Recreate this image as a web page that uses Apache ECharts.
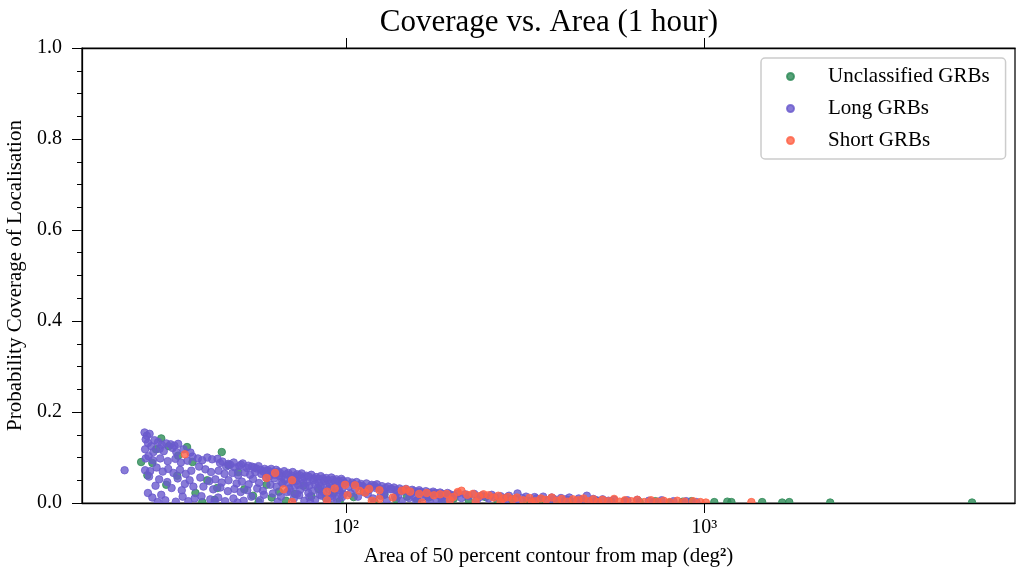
<!DOCTYPE html>
<html>
<head>
<meta charset="utf-8">
<title>Coverage vs. Area (1 hour)</title>
<script src="https://cdn.jsdelivr.net/npm/echarts@6/dist/echarts.min.js"></script>
<style>
  html, body { margin: 0; padding: 0; background: #fff; }
  #chart { width: 1016px; height: 574px; }
</style>
</head>
<body>
<div id="chart"></div>
<script>
// [area of 50% contour (deg^2), probability coverage]
const unclassifiedGRBs = [
  [26.8,0.090],[27.9,0.061],[28.8,0.088],[29.5,0.118],[30.5,0.142],[32.0,0.125],[34.0,0.104],[36.0,0.123],
  [37.3,0.090],[31.5,0.040],[33.8,0.060],[38.0,0.022],[39.7,0.002],[41.0,0.050],[43.0,0.007],[43.7,0.033],
  [45.0,0.112],[47.0,0.083],[50.0,0.068],[52.0,0.030],[55.0,0.016],[57.0,0.002],[60.0,0.040],[62.0,0.012],
  [65.0,0.025],[68.0,0.005],[72.0,0.020],[76.0,0.038],[80.0,0.015],[84.0,0.030],[88.0,0.010],[92.0,0.022],
  [96.0,0.004],[105,0.013],[112,0.025],[120,0.002],[128,0.018],[138,0.008],[148,0.014],[158,0.006],
  [170,0.012],[185,0.004],[200,0.010],[220,0.006],[245,0.013],[265,0.003],[290,0.009],[320,0.005],
  [350,0.008],[385,0.003],[420,0.006],[460,0.002],[500,0.005],[550,0.003],[600,0.004],[660,0.002],
  [730,0.004],[800,0.001],[870,0.003],[920,0.004],[1066,0.002],[1159,0.003],[1190,0.002],[1450,0.002],
  [1649,0.001],[1726,0.002],[2245,0.001],[5586,0.001]
];

const longGRBs = [
  [24.1,0.072],
  [27.4,0.155],[27.8,0.148],[28.3,0.152],[27.6,0.140],[28.0,0.132],[27.5,0.118],[28.6,0.125],[29.2,0.138],
  [29.9,0.134],[30.6,0.128],[31.5,0.131],[32.4,0.129],[33.2,0.126],[34.0,0.130],[32.8,0.121],[30.2,0.119],
  [29.0,0.112],[31.0,0.114],[33.6,0.112],[35.2,0.118],[36.8,0.111],
  [27.6,0.098],[28.1,0.103],[28.9,0.094],[30.3,0.098],[31.8,0.092],[33.4,0.097],[34.6,0.089],[36.1,0.093],[37.3,0.102],
  [27.5,0.072],[28.4,0.070],[29.6,0.078],[30.8,0.069],[31.9,0.075],[33.0,0.066],[34.4,0.073],[35.7,0.064],[37.0,0.071],
  [28.2,0.058],[30.1,0.052],[31.7,0.046],[33.9,0.054],[35.5,0.042],[36.6,0.050],[29.4,0.038],[32.6,0.033],[34.8,0.028],[37.5,0.036],
  [28.0,0.022],[28.8,0.012],[30.5,0.018],[31.3,0.006],[33.5,0.003],[35.0,0.014],[36.3,0.004],[37.8,0.010],[29.8,0.002],
  [38.6,0.098],[39.7,0.094],[41.0,0.100],[42.3,0.096],[43.8,0.097],[45.2,0.091],[46.3,0.080],[47.5,0.084],
  [49.0,0.078],[50.4,0.081],[51.5,0.087],[52.9,0.077],[54.6,0.080],[56.2,0.076],[57.8,0.073],[59.3,0.075],
  [38.9,0.080],[40.5,0.074],[42.0,0.068],[44.1,0.071],[45.8,0.064],[48.2,0.066],[50.0,0.061],[52.2,0.067],
  [54.0,0.062],[55.8,0.068],[58.0,0.064],
  [39.2,0.056],[41.5,0.048],[43.2,0.052],[45.0,0.045],[47.0,0.050],[49.5,0.043],[51.2,0.047],[53.5,0.041],
  [55.0,0.053],[57.2,0.044],[59.8,0.056],
  [40.0,0.036],[42.6,0.030],[44.6,0.034],[46.8,0.026],[48.8,0.031],[50.8,0.024],[53.0,0.028],[56.5,0.032],[58.6,0.027],
  [39.5,0.015],[41.8,0.008],[44.0,0.012],[46.0,0.004],[48.5,0.010],[51.8,0.005],[54.4,0.014],[57.5,0.006],
  [59.0,0.018],[43.0,0.002],[49.8,0.001],
  [44.5,0.088],[46.9,0.086],[48.6,0.089],[50.9,0.084],[53.4,0.082],[55.4,0.078],[57.0,0.081],[58.8,0.069],
  [60.5,0.072],[62.0,0.068],[63.8,0.073],[65.5,0.066],[67.2,0.070],[69.0,0.066],[71.0,0.068],[73.0,0.063],
  [75.2,0.065],[77.5,0.060],[80.0,0.062],[82.5,0.057],[85.0,0.059],[88.0,0.055],[91.0,0.056],[94.0,0.052],[97.0,0.053],
  [60.0,0.070],[61.8,0.075],[63.2,0.062],[64.6,0.069],[66.2,0.058],[68.2,0.063],[70.5,0.060],[72.8,0.057],
  [74.2,0.061],[76.4,0.056],[78.6,0.058],[81.5,0.054],[83.8,0.052],[86.2,0.054],[89.0,0.050],[92.0,0.051],
  [95.2,0.048],[98.0,0.049],
  [61.0,0.058],[63.0,0.054],[65.0,0.060],[67.5,0.051],[70.0,0.056],[72.5,0.048],[75.0,0.053],[78.0,0.046],
  [81.0,0.050],[84.0,0.044],[87.0,0.048],[90.0,0.042],[93.5,0.046],[96.5,0.040],[99.0,0.044],
  [66.0,0.046],[69.0,0.042],[71.0,0.047],[73.5,0.040],[76.0,0.044],[79.0,0.038],[82.0,0.041],[85.0,0.036],
  [88.0,0.039],[91.0,0.034],[94.0,0.037],[97.5,0.031],
  [61.5,0.040],[64.0,0.036],[66.5,0.043],[69.5,0.032],[72.0,0.038],[74.5,0.029],[77.0,0.035],[80.5,0.026],
  [83.5,0.033],[86.5,0.024],[89.5,0.030],[92.5,0.021],[95.5,0.028],[98.5,0.019],
  [70.0,0.025],[73.0,0.020],[78.5,0.022],[84.5,0.018],[90.5,0.015],[96.0,0.022],
  [62.5,0.021],[65.8,0.014],[68.5,0.024],[71.5,0.010],[74.0,0.017],[76.5,0.005],[79.0,0.013],[82.0,0.007],
  [85.5,0.016],[88.5,0.003],[91.5,0.011],[94.5,0.006],[97.5,0.013],[64.5,0.003],[79.5,0.001],
  [101,0.048],[104,0.045],[107,0.046],[110,0.042],[114,0.043],[118,0.040],[122,0.041],[126,0.037],
  [131,0.036],[136,0.034],[141,0.032],[147,0.031],[153,0.029],[160,0.028],[167,0.026],[175,0.025],[183,0.023],[192,0.022],
  [105,0.041],[109,0.038],[112,0.035],[117,0.036],[120,0.038],[124,0.032],[129,0.033],[134,0.031],
  [138,0.029],[144,0.028],[149,0.026],[155,0.026],[162,0.024],[170,0.023],[178,0.022],[186,0.020],[195,0.019],
  [102,0.036],[106,0.031],[111,0.037],[116,0.029],[121,0.033],[127,0.027],[133,0.030],[139,0.024],
  [145,0.027],[152,0.021],[159,0.024],[166,0.019],[174,0.021],[182,0.016],[190,0.018],
  [115,0.019],[128,0.021],[140,0.017],[155,0.014],[170,0.015],[185,0.012],
  [103,0.021],[108,0.014],[113,0.023],[119,0.010],[125,0.016],[130,0.006],[137,0.013],[143,0.004],
  [150,0.011],[157,0.005],[163,0.012],[171,0.003],[179,0.008],[187,0.003],[196,0.009],
  [205,0.021],[215,0.019],[228,0.020],[240,0.017],[255,0.018],[270,0.015],[285,0.016],[301,0.021],
  [318,0.014],[336,0.013],[355,0.014],[375,0.012],[398,0.011],[420,0.012],[446,0.010],[470,0.016],[490,0.009],
  [200,0.017],[220,0.015],[238,0.014],[260,0.013],[280,0.012],[310,0.011],[340,0.010],[380,0.009],
  [410,0.008],[455,0.007],[500,0.006],[540,0.005],
  [210,0.011],[232,0.007],[250,0.010],[278,0.005],[300,0.008],[330,0.004],[365,0.006],[405,0.003],[440,0.005],[480,0.002],
  [520,0.008],[560,0.007],[610,0.006],[650,0.007],[700,0.005],[760,0.006],[820,0.004],[890,0.004],[950,0.002],
  [600,0.002],[720,0.001]
];

const shortGRBs = [
  [35.5,0.107],
  [60.0,0.055],[63.4,0.066],[67.0,0.030],[70.7,0.050],[70.7,0.002],[88.5,0.025],[88.5,0.006],[93.0,0.032],
  [99.4,0.040],[101,0.017],[106,0.039],[109,0.027],[113,0.023],[116,0.031],[124,0.028],[124,0.009],[118,0.005],
  [135,0.012],[143,0.027],[147,0.030],[151,0.025],[160,0.020],[163,0.001],[168,0.022],[176,0.017],
  [183,0.019],[191,0.020],[199,0.013],[195,0.006],
  [205,0.024],[210,0.027],[218,0.018],[226,0.020],[235,0.015],[242,0.019],[250,0.017],[258,0.012],
  [266,0.016],[275,0.010],[283,0.013],[292,0.008],[300,0.012],[312,0.006],[325,0.011],[338,0.004],
  [350,0.010],[362,0.007],[375,0.012],[388,0.005],[400,0.009],[415,0.003],[430,0.008],[445,0.006],
  [460,0.010],[475,0.004],[490,0.008],[505,0.002],[520,0.007],[540,0.004],[560,0.009],[580,0.003],
  [600,0.006],[625,0.004],[650,0.007],[680,0.002],[710,0.006],[740,0.003],[770,0.005],[800,0.002],
  [840,0.005],[880,0.003],[930,0.004],[975,0.002],[1010,0.001],[1353,0.002],[230,0.003],[270,0.002],[330,0.001]
];

// major ticks on the logarithmic area axis
const xTickValues = [100, 1000];
const superscripts = { 2: '²', 3: '³' };

const serif = 'Liberation Serif';
const axisColor = '#000';

const chart = echarts.init(document.getElementById('chart'), null, { renderer: 'canvas' });

function scatterSeries(name, data, color) {
  return {
    name: name,
    type: 'scatter',
    xAxisIndex: 0,
    yAxisIndex: 0,
    data: data,
    symbol: 'circle',
    symbolSize: 7.5,
    itemStyle: { color: color, borderColor: color, borderWidth: 1, opacity: 0.8 },
    emphasis: { disabled: true }
  };
}

const logAxisBase = {
  type: 'log',
  logBase: 10,
  min: 18.33,
  max: 7362,
  splitLine: { show: false },
  minorTick: { show: false },
  minorSplitLine: { show: false },
  axisLine: { show: true, lineStyle: { color: axisColor, width: 1.25 } },
  axisTick: { show: true, customValues: xTickValues, length: 10, inside: false,
              lineStyle: { color: axisColor, width: 1 } }
};

chart.setOption({
  animation: false,
  backgroundColor: '#fff',
  textStyle: { fontFamily: serif },
  title: {
    text: 'Coverage vs. Area (1 hour)',
    left: 544,
    top: 2,
    textAlign: 'center',
    textStyle: { fontFamily: serif, fontSize: 31, fontWeight: 'normal', color: '#000' }
  },
  grid: {
    left: 82, right: 1, top: 48, bottom: 71,
    outerBoundsMode: 'none',
    containLabel: false,
    show: true, borderColor: axisColor, borderWidth: 1.25, backgroundColor: 'transparent'
  },
  legend: {
    orient: 'vertical',
    left: 761,
    top: 58,
    padding: [8, 16, 8, 25],
    itemGap: 11,
    itemWidth: 7,
    itemHeight: 7,
    icon: 'circle',
    backgroundColor: '#fff',
    borderColor: '#cccccc',
    borderWidth: 1.5,
    borderRadius: 4,
    formatter: function (name) { return '{t|' + name + '}'; },
    textStyle: {
      fontFamily: serif, fontSize: 21, color: '#000', lineHeight: 20,
      rich: { t: { fontFamily: serif, fontSize: 21, color: '#000', lineHeight: 20, padding: [0, 0, 0, 29] } }
    },
    data: ['Unclassified GRBs', 'Long GRBs', 'Short GRBs']
  },
  graphic: [
    // keeps markers from spilling below the bottom edge of the plot
    { type: 'rect', silent: true, z: 50,
      shape: { x: 83, y: 504, width: 931, height: 7 },
      style: { fill: '#fff' } }
  ],
  xAxis: [
    Object.assign({}, logAxisBase, {
      position: 'bottom',
      z: 60,
      axisLabel: {
        customValues: xTickValues,
        margin: 15,
        fontFamily: serif,
        fontSize: 20,
        color: '#000',
        formatter: function (v) { return '10' + superscripts[Math.round(Math.log10(v))]; }
      },
      name: 'Area of 50 percent contour from map (deg{s|²})',
      nameLocation: 'middle',
      nameGap: 43,
      nameTextStyle: {
        fontFamily: serif, fontSize: 21, color: '#000',
        rich: { s: { fontFamily: serif, fontSize: 21, fontWeight: 'bold', color: '#000' } }
      }
    }),
    Object.assign({}, logAxisBase, {
      position: 'top',
      z: 60,
      axisLabel: { show: false }
    })
  ],
  yAxis: {
    type: 'value',
    min: 0,
    max: 1,
    interval: 0.2,
    z: 60,
    splitLine: { show: false },
    axisLine: { show: true, lineStyle: { color: axisColor, width: 1.25 } },
    axisTick: { show: true, length: 10, inside: false, lineStyle: { color: axisColor, width: 1 } },
    minorTick: { show: true, splitNumber: 4, length: 5, lineStyle: { color: axisColor, width: 1 } },
    minorSplitLine: { show: false },
    axisLabel: {
      margin: 20, fontFamily: serif, fontSize: 20, color: '#000',
      formatter: function (v) { return v.toFixed(1); }
    },
    name: 'Probability Coverage of Localisation',
    nameLocation: 'middle',
    nameGap: 53,
    nameTextStyle: { fontFamily: serif, fontSize: 21, color: '#000' }
  },
  series: [
    scatterSeries('Unclassified GRBs', unclassifiedGRBs, '#2e8b57'),
    scatterSeries('Long GRBs', longGRBs, '#6a5acd'),
    scatterSeries('Short GRBs', shortGRBs, '#ff6347')
  ]
});
</script>
</body>
</html>
